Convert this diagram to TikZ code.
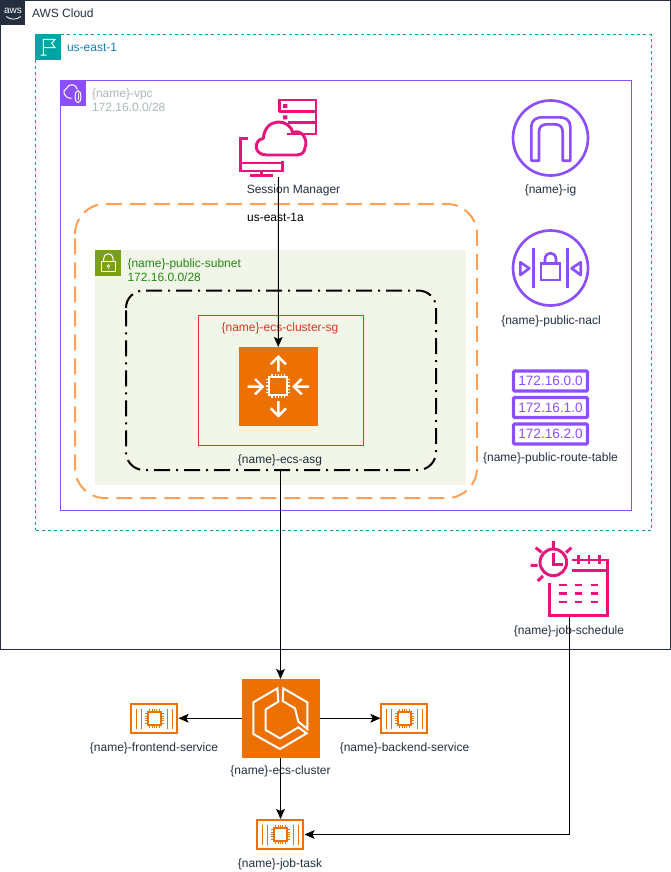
\documentclass[tikz,border=0pt]{standalone}
\usepackage{fontspec}
\setmainfont{Liberation Sans}
\usetikzlibrary{arrows.meta}
\definecolor{awsdark}{HTML}{232F3E}
\definecolor{regionc}{HTML}{00A4A6}
\definecolor{regiont}{HTML}{147EBA}
\definecolor{vpcc}{HTML}{8C4FFF}
\definecolor{vpct}{HTML}{AAB7B8}
\definecolor{subc}{HTML}{7AA116}
\definecolor{subt}{HTML}{248814}
\definecolor{subf}{HTML}{F2F6E8}
\definecolor{azc}{HTML}{FF9F53}
\definecolor{sgc}{HTML}{DD3522}
\definecolor{orangec}{HTML}{ED7100}
\definecolor{pinkc}{HTML}{E7157B}
\tikzset{
  lab/.style={font=\fontsize{9}{11}\selectfont,text=awsdark,inner sep=0pt,anchor=center},
  lefttext/.style={font=\fontsize{9}{10.5}\selectfont,inner sep=0pt,anchor=west,align=left},
  conn/.style={draw=black,line width=0.75pt,-{Stealth[length=7.5pt,width=6.5pt,inset=1.5pt]}},
  zoomed/.style={x=0.25pt,y=-0.25pt},
  pinkline/.style={draw=pinkc,line width=2.2pt,line join=miter},
  purpline/.style={draw=vpcc,line width=2pt},
  wline/.style={draw=white,line width=1.8pt},
  ecsline/.style={draw=white,line width=1.5pt},
  wthin/.style={draw=white,line width=0.75pt},
  oline/.style={draw=orangec,line width=1.6pt},
  routetxt/.style={font=\fontsize{10.2}{12}\selectfont,text=vpcc,inner sep=0pt},
  routebox/.style={draw=vpcc,line width=2.4pt,inner sep=0pt,minimum width={74*0.75pt},minimum height={20*0.75pt},rounded corners=0.8pt,routetxt},
}
% box named #6 covering pixels (#2,#3)-(#4,#5)
\newcommand{\areabox}[6][]{\node[inner sep=0pt,outer sep=0pt,minimum width={(#4-#2)*0.75pt},minimum height={(#5-#3)*0.75pt},#1] (#6) at ({(#2+#4)/2},{(#3+#5)/2}) {};}
\newcommand{\chipicon}[4]{% cx cy half colour
  \draw[#4,line width=1.5pt] ({#1-#3},{#2-#3}) rectangle ({#1+#3},{#2+#3});
  \foreach \k in {-0.7,-0.35,0,0.35,0.7}{
    \draw[#4,line width=0.8pt] ({#1+\k*#3},{#2-#3}) -- ({#1+\k*#3},{#2-#3-3});
    \draw[#4,line width=0.8pt] ({#1+\k*#3},{#2+#3}) -- ({#1+\k*#3},{#2+#3+3});
    \draw[#4,line width=0.8pt] ({#1-#3},{#2+\k*#3}) -- ({#1-#3-3},{#2+\k*#3});
    \draw[#4,line width=0.8pt] ({#1+#3},{#2+\k*#3}) -- ({#1+#3+3},{#2+\k*#3});
  }}
\newcommand{\taskicon}[2]{% x0 y0 top-left pixel
  \begin{scope}[shift={(#1,#2)}]
    \draw[oline] (0.8,0.8) rectangle (46.8,30);
    \foreach \q in {6,11,37,42}{\draw[orangec,line width=1.3pt] (\q,5.5) -- (\q,25.5);}
    \chipicon{24}{15.5}{6.5}{orangec}
  \end{scope}}
\begin{document}
\begin{tikzpicture}[x=0.75pt,y=-0.75pt,outer sep=0pt]
\useasboundingbox (0,0) rectangle (671,872);
% AWS cloud
\node[draw=awsdark,line width=0.75pt,inner sep=0pt,minimum width={669.5*0.75pt},minimum height={649*0.75pt},anchor=north west] (cloud) at (0.5,0.5) {};
\fill[awsdark] (0,0) rectangle (25,25);
\node[inner sep=0pt,text=white,font=\fontsize{7.5}{8}\selectfont] (awslogo) at (13,10.5) {aws};
\draw[white,line width=0.6pt] (6,16.5) .. controls (11,20) and (16,20) .. (21,16.5);
\node[lefttext,text=awsdark] (cloudt) at (32,13.5) {AWS Cloud};
% region
\node[draw=regionc,line width=0.75pt,dash pattern=on 2.25pt off 2.25pt,inner sep=0pt,minimum width={615.5*0.75pt},minimum height={495.5*0.75pt},anchor=north west] (region) at (35.5,34.5) {};
\fill[regionc] (35,34) rectangle (60.5,59.5);
\begin{scope}[zoomed]
\draw[wthin] (122,165) -- (140,165) (130,165) -- (130,118) -- (165,118) -- (155,130) -- (165,143) -- (130,143);
\end{scope}
\node[lefttext,text=regiont] (regiont) at (67,47.5) {us-east-1};
% vpc
\node[draw=vpcc,line width=0.75pt,inner sep=0pt,minimum width={570.5*0.75pt},minimum height={429.5*0.75pt},anchor=north west] (vpc) at (60.5,80.5) {};
\fill[vpcc] (60.5,80.5) rectangle (85.5,105.5);
\begin{scope}[zoomed]
\draw[wthin] (215,295) .. controls (190,295) and (185,270) .. (200,265) .. controls (205,250) and (228,250) .. (232,268);
\draw[wthin] (234,272) .. controls (222,272) and (222,308) .. (234,308) .. controls (246,308) and (246,272) .. (234,272) -- cycle;
\draw[white,line width=0.4pt] (234,280) -- (234,300);
\end{scope}
\node[lefttext,text=vpct] (vpct) at (92,100) {\{name\}-vpc\\172.16.0.0/28};
% availability zone
\draw[azc,line width=1.5pt,dash pattern=on 12pt off 6pt] (75,234) .. controls (75,217.4) and (88.4,204) .. (105,204) -- (447,204) .. controls (463.6,204) and (477,217.4) .. (477,234) -- (477,468) .. controls (477,484.6) and (463.6,498) .. (447,498) -- (105,498) .. controls (88.4,498) and (75,484.6) .. (75,468) -- cycle;
\node[lab,text=black] (azt) at (275.5,217) {us-east-1a};
% subnet
\node[fill=subf,inner sep=0pt,minimum width={371*0.75pt},minimum height={235*0.75pt},anchor=north west] (subnet) at (95,250) {};
\fill[subc] (95,250) rectangle (120.5,275.5);
\begin{scope}[shift={(80,240)},zoomed]
\draw[wthin] (64,63) rectangle (106,93);
\draw[wthin] (71,63) -- (71,55) .. controls (71,37) and (99,37) .. (99,55) -- (99,63);
\draw[white,line width=0.5pt] (85,78) circle[radius=4] (85,82) -- (85,88);
\end{scope}
\node[lefttext,text=subt] (subt) at (127.5,270) {\{name\}-public-subnet\\172.16.0.0/28};
% asg
\draw[black,line width=1.5pt,dash pattern=on 12pt off 4.5pt on 1.5pt off 4.5pt] (126,308) .. controls (126,298) and (134,290.5) .. (144,290.5) -- (418,290.5) .. controls (428,290.5) and (436,298) .. (436,308) -- (436,452) .. controls (436,462) and (428,470) .. (418,470) -- (144,470) .. controls (134,470) and (126,462) .. (126,452) -- cycle;
\areabox{126}{290}{436}{470}{asg}
\node[lab] (asgt) at (280,460.5) {\{name\}-ecs-asg};
% security group
\node[draw=sgc,line width=0.75pt,inner sep=0pt,minimum width={165*0.75pt},minimum height={130*0.75pt},anchor=north west] (sg) at (198,315.5) {};
\node[lab,text=sgc] (sgt) at (280,328.5) {\{name\}-ecs-cluster-sg};
% auto scaling instance icon
\areabox[fill=orangec]{239}{347}{317.5}{425.5}{inst}
\chipicon{278.3}{386}{9}{white}
\begin{scope}[shift={(80,240)},zoomed]
\draw[wline] (595,395) -- (595,350) (572,373) -- (595,350) -- (618,373);
\draw[wline] (595,483) -- (595,528) (572,505) -- (595,528) -- (618,505);
\draw[wline] (503,440) -- (548,440) (525,417) -- (548,440) -- (525,463);
\draw[wline] (687,440) -- (642,440) (665,417) -- (642,440) -- (665,463);
\end{scope}
% session manager
\areabox{240}{99}{317}{177}{sm}
\begin{scope}[zoomed]
\draw[pinkline] (838,335) -- (838,300) -- (948,300) -- (948,402) -- (862,402);
\draw[pinkline] (838,335) -- (948,335) (865,368) -- (948,368);
\fill[pinkc] (849,312) rectangle (862,324) (849,346) rectangle (862,358);
\draw[pinkline,line join=round] (800,465) .. controls (760,465) and (760,420) .. (790,415) .. controls (795,350) and (870,355) .. (878,398) .. controls (905,385) and (925,420) .. (915,442) .. controls (915,455) and (905,465) .. (890,465) -- cycle;
\draw[pinkline] (745,415) -- (722,415) -- (722,513) -- (848,513) -- (848,482);
\draw[pinkline,line width=1.5pt] (722,490) -- (848,490);
\draw[pinkline] (785,515) -- (785,526) (750,527) -- (820,527);
\end{scope}
\node[lab] (smt) at (293.5,190.5) {Session Manager};
% internet gateway
\areabox{512}{99}{589}{177}{ig}
\draw[purpline] (ig.center) circle[radius=37.5];
\begin{scope}[shift={(480,90)},zoomed]
\draw[purpline,line join=round] (154,212) -- (154,110) .. controls (154,90) and (170,82) .. (185,82) -- (240,82) .. controls (255,82) and (271,90) .. (271,110) -- (271,212) -- (248,212) -- (248,125) .. controls (248,110) and (238,103) .. (225,103) -- (200,103) .. controls (187,103) and (177,110) .. (177,125) -- (177,212) -- cycle;
\end{scope}
\node[lab] (igt) at (550.5,190.5) {\{name\}-ig};
% nacl
\areabox{512}{229}{589}{307}{nacl}
\draw[purpline] (nacl.center) circle[radius=37.5];
\begin{scope}[shift={(480,90)},zoomed]
\draw[purpline] (161,475) -- (161,595) (263,475) -- (263,595);
\draw[purpline,line join=round] (121,517) -- (148,535) -- (121,555) -- cycle (302,517) -- (275,535) -- (302,555) -- cycle;
\draw[purpline] (183,520) rectangle (240,570);
\draw[purpline] (195,520) -- (195,508) .. controls (195,483) and (228,483) .. (228,508) -- (228,520);
\end{scope}
\node[lab] (naclt) at (551,321.5) {\{name\}-public-nacl};
% route table
\node[routebox] (rt1) at (550.5,381) {172.16.0.0};
\node[routebox] (rt2) at (550.5,407.5) {172.16.1.0};
\node[routebox] (rt3) at (550.5,434) {172.16.2.0};
\node[lab] (rtt) at (550.5,458.5) {\{name\}-public-route-table};
% schedule
\areabox{530}{541}{608}{616.5}{sched}
\begin{scope}[shift={(470,360)},zoomed]
\draw[pinkline] (250,607) circle[radius=40];
\draw[pinkline] (250,578) -- (250,613) -- (278,613);
\draw[pinkline] (250,543) -- (250,564) (197,563) -- (215,577) (304,563) -- (288,578) (182,616) -- (203,616) (203,663) -- (219,648);
\draw[pinkline] (305,600) -- (412,600) -- (412,767) -- (238,767) -- (238,670);
\draw[pinkline] (305,632) -- (412,632);
\draw[pinkline] (325,585) -- (325,612) (357,585) -- (357,612) (389,585) -- (389,612);
\foreach \ry in {675,700,726}{\foreach \rx in {268,315,362}{
  \draw[pinkline] (\rx,\ry) -- +(22,0);}}
\end{scope}
\node[lab] (schedt) at (569,631.5) {\{name\}-job-schedule};
% ecs cluster
\areabox[fill=orangec]{241.5}{679}{319.5}{757.5}{ecs}
\begin{scope}[shift={(90,670)},zoomed]
\draw[ecsline,line join=miter] (562,55) -- (490,97) -- (490,192) -- (570,237) -- (650,190) -- (625,172) -- (570,205) -- (527,180) -- (527,118) -- (565,95) -- cycle;
\draw[ecsline,line join=miter] (580,55) -- (652,97) -- (652,177) -- (625,155) -- (615,115) -- (578,93) -- cycle;
\end{scope}
\node[lab] (ecst) at (280.5,771) {\{name\}-ecs-cluster};
% tasks
\areabox{130.5}{703}{178.5}{733.5}{front}
\taskicon{130.5}{703}
\node[lab] (frontt) at (154,748) {\{name\}-frontend-service};
\areabox{380.5}{703}{428.5}{733.5}{back}
\taskicon{380.5}{703}
\node[lab] (backt) at (404.5,748) {\{name\}-backend-service};
\areabox{256.5}{819}{304.5}{850}{job}
\taskicon{256.5}{819}
\node[lab] (jobt) at (280,864) {\{name\}-job-task};
% connectors
\draw[conn] (sm.south) -- (inst.north);
\draw[conn] (asg.south -| ecs.north) -- (ecs.north);
\draw[conn] (ecs.west) -- (front.east);
\draw[conn] (ecs.east) -- (back.west);
\draw[conn] (ecs.south) -- (job.north -| ecs.south);
\draw[conn] (sched.south -| schedt.north) |- (job.east);
\end{tikzpicture}
\end{document}
